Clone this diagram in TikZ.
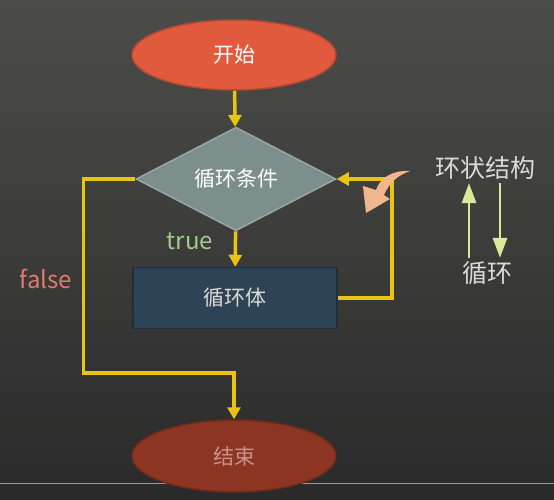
\documentclass[tikz,border=0pt]{standalone}
\usepackage{fontspec}
\usepackage{tikz}
\usetikzlibrary{shapes.geometric,arrows.meta,calc}
\newfontfamily\cjk{Noto Sans CJK SC}
\definecolor{chalkyellow}{RGB}{232,196,20}

\begin{document}
\begin{tikzpicture}[x=1pt,y=-1pt,
    flow/.style={chalkyellow, line width=3.5pt, -{Triangle[length=12pt,width=13pt]}},
    hint/.style={line width=2.5pt, -{Triangle[length=20pt,width=14pt]}}]
    % Define colors for each part
    \definecolor{startcolor}{RGB}{226,90,62}   % Orange red
    \definecolor{condcolor}{RGB}{125,143,141}  % Grey teal
    \definecolor{bodycolor}{RGB}{46,67,86}     % Slate blue
    \definecolor{endcolor}{RGB}{140,53,35}     % Brick red
    \definecolor{truecolor}{RGB}{163,201,139}  % Light green
    \definecolor{falsecolor}{RGB}{224,123,112} % Salmon
    \definecolor{chalkcolor}{RGB}{218,218,210} % Chalk white
    \definecolor{hintcolor}{RGB}{221,231,154}  % Pale yellow green
    \definecolor{curlcolor}{RGB}{242,182,140}  % Peach

    % Board
    \shade[top color={rgb,255:red,76;green,76;blue,74}, bottom color={rgb,255:red,42;green,42;blue,42}]
        (0,0) rectangle (554,499);
    \useasboundingbox (0,0) rectangle (554,499);
    \draw[gray!80, line width=1pt] (0,483) -- (554,483);

    % Flow chart
    \node[ellipse, draw=startcolor!80!black, line width=1.5pt, fill=startcolor,
          minimum width=204pt, minimum height=70pt, font=\cjk\fontsize{21}{24}\selectfont,
          text=white] (start) at (234,55) {开始};
    \node[diamond, draw=condcolor!80!white, line width=1.5pt, fill=condcolor, inner sep=0pt,
          minimum width=200pt, minimum height=84pt, font=\cjk\fontsize{21}{24}\selectfont,
          text=white] (cond) at (236,179) {循环条件};
    \node[rectangle, draw=bodycolor!70!black, line width=1.5pt, fill=bodycolor,
          minimum width=204pt, minimum height=61pt, font=\cjk\fontsize{21}{24}\selectfont,
          text=chalkcolor] (body) at (235,298) {循环体};
    \node[ellipse, draw=endcolor!80!black, line width=1.5pt, fill=endcolor,
          minimum width=204pt, minimum height=72pt, font=\cjk\fontsize{21}{24}\selectfont,
          text={rgb,255:red,200;green,148;blue,138}] (end) at (234,456) {结束};

    % Connections
    \coordinate (join) at (234,373);
    \draw[flow] (start) -- (cond);
    \draw[flow] (cond) -- (body);
    \draw[flow] (body.east) -- ++(54,0) |- (cond.east);
    \draw[flow] (cond.west) -- ++(-52,0) |- (join) -- (end);
    \node[truecolor, font=\cjk\fontsize{24}{28}\selectfont] (truelabel) at (190,241) {true};
    \node[falsecolor, font=\cjk\fontsize{24}{28}\selectfont] (falselabel) at (46,279) {false};

    % Curled arrow
    \fill[curlcolor] (410,171) .. controls (392,170) and (380,178) .. (376,190)
        -- (363,186) -- (366,213) -- (390,199) -- (384,195)
        .. controls (389,183) and (398,175) .. (410,171) -- cycle;

    % Side notes
    \node[chalkcolor, font=\cjk\fontsize{25}{28}\selectfont] (ring) at (485,168) {环状结构};
    \node[chalkcolor, font=\cjk\fontsize{25}{28}\selectfont] (loop) at (487,273) {循环};
    \draw[hint, hintcolor] ([xshift=-18pt]loop.north) -- ([xshift=-16pt]ring.south);
    \draw[hint, hintcolor] ([xshift=15pt]ring.south) -- ([xshift=13pt]loop.north);
\end{tikzpicture}
\end{document}
